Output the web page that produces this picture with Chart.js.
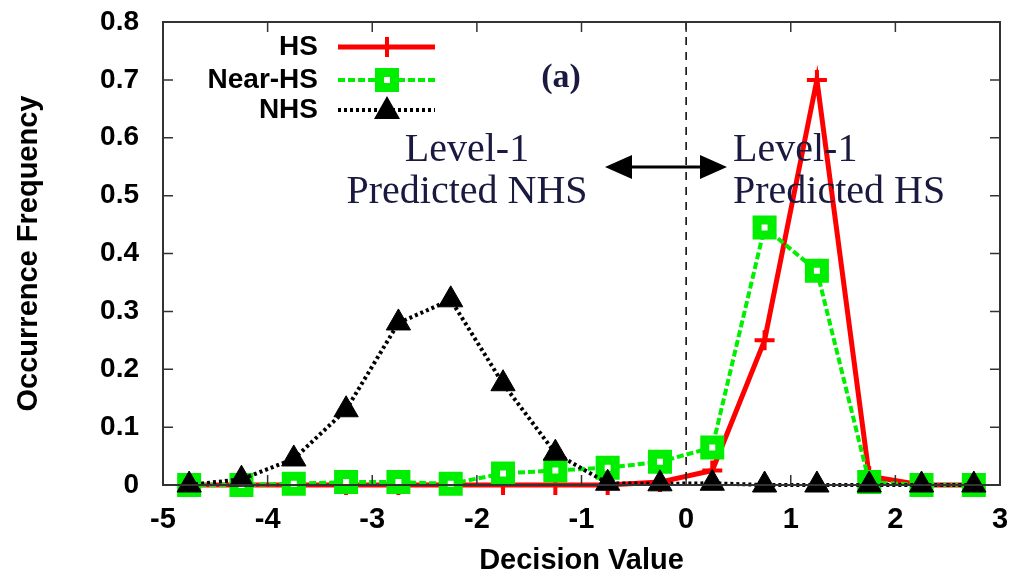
<!DOCTYPE html>
<html>
<head>
<meta charset="utf-8">
<script src="https://cdn.jsdelivr.net/npm/chart.js@4/dist/chart.umd.min.js"></script>
<style>
  html, body { margin: 0; padding: 0; background: #fff; }
  #wrap { width: 1015px; height: 580px; }
</style>
</head>
<body>
<div id="wrap"><canvas id="myChart" width="1015" height="580"></canvas></div>
<script>
// bin centres (decision value)
const binCenters = [-4.75, -4.25, -3.75, -3.25, -2.75, -2.25, -1.75, -1.25, -0.75, -0.25, 0.25, 0.75, 1.25, 1.75, 2.25, 2.75];
// occurrence frequency per series
const hsValues = [0, 0, 0, 0, 0, 0, 0, 0, 0, 0.005, 0.025, 0.25, 0.70, 0.015, 0, 0];
const nearHsValues = [0, 0, 0.002, 0.005, 0.005, 0.002, 0.02, 0.025, 0.03, 0.04, 0.065, 0.445, 0.37, 0.005, 0, 0];
const nhsValues = [0, 0.01, 0.045, 0.13, 0.28, 0.32, 0.175, 0.055, 0.003, 0.002, 0.003, 0, 0, 0, 0, 0];
// axis ticks
const xTicks = [-5, -4, -3, -2, -1, 0, 1, 2, 3];
const yTicks = [0, 0.1, 0.2, 0.3, 0.4, 0.5, 0.6, 0.7, 0.8];

const toPoints = vals => vals.map((v, i) => ({ x: binCenters[i], y: v }));
const SANS = "'Liberation Sans', Arial, sans-serif";
const SERIF = "'Liberation Serif', 'Times New Roman', serif";
const NAVY = "#1a1a40";

// frame, inward ticks, dashed zero line, legend and annotations
const decorations = {
  id: "decorations",
  afterDatasetsDraw(chart) {
    const ctx = chart.ctx;
    const a = chart.chartArea;
    const xs = chart.scales.x, ys = chart.scales.y;
    ctx.save();

    // dashed line at decision value 0
    const x0 = xs.getPixelForValue(0);
    ctx.strokeStyle = "#000";
    ctx.lineWidth = 1.5;
    ctx.setLineDash([8, 7]);
    ctx.beginPath();
    ctx.moveTo(x0, a.top);
    ctx.lineTo(x0, a.bottom);
    ctx.stroke();
    ctx.setLineDash([]);

    // frame
    ctx.strokeStyle = "#333";
    ctx.lineWidth = 2;
    ctx.strokeRect(a.left, a.top, a.right - a.left, a.bottom - a.top);

    // inward ticks on all four sides
    ctx.lineWidth = 1.5;
    ctx.beginPath();
    xTicks.forEach(t => {
      const px = xs.getPixelForValue(t);
      ctx.moveTo(px, a.bottom); ctx.lineTo(px, a.bottom - 10);
      ctx.moveTo(px, a.top); ctx.lineTo(px, a.top + 10);
    });
    yTicks.forEach(t => {
      const py = ys.getPixelForValue(t);
      ctx.moveTo(a.left, py); ctx.lineTo(a.left + 10, py);
      ctx.moveTo(a.right, py); ctx.lineTo(a.right - 10, py);
    });
    ctx.stroke();

    // legend (text right aligned, sample to the right)
    const legend = [
      { label: "HS", y: 47, color: "#ff0000", dash: [], width: 5, marker: "cross" },
      { label: "Near-HS", y: 80, color: "#00ee00", dash: [7, 3], width: 4, marker: "rect" },
      { label: "NHS", y: 110, color: "#000", dash: [3, 3], width: 4, marker: "triangle" }
    ];
    ctx.font = "bold 28px " + SANS;
    ctx.textAlign = "right";
    ctx.textBaseline = "middle";
    legend.forEach(l => {
      ctx.fillStyle = "#000";
      ctx.fillText(l.label, 318, l.y);
      ctx.strokeStyle = l.color;
      ctx.lineWidth = l.width;
      ctx.setLineDash(l.dash);
      ctx.beginPath();
      ctx.moveTo(338, l.y); ctx.lineTo(435, l.y);
      ctx.stroke();
      ctx.setLineDash([]);
      const mx = 387;
      if (l.marker === "cross") {
        ctx.lineWidth = 4;
        ctx.beginPath();
        ctx.moveTo(mx - 10, l.y); ctx.lineTo(mx + 10, l.y);
        ctx.moveTo(mx, l.y - 10); ctx.lineTo(mx, l.y + 10);
        ctx.stroke();
      } else if (l.marker === "rect") {
        ctx.fillStyle = "#fff";
        ctx.lineWidth = 9;
        ctx.fillRect(mx - 7.5, l.y - 7.5, 15, 15);
        ctx.strokeRect(mx - 7.5, l.y - 7.5, 15, 15);
      } else {
        ctx.fillStyle = "#000";
        ctx.beginPath();
        ctx.moveTo(mx, l.y - 14);
        ctx.lineTo(mx + 13, l.y + 9);
        ctx.lineTo(mx - 13, l.y + 9);
        ctx.closePath();
        ctx.fill();
      }
    });

    // "(a)" label
    ctx.fillStyle = NAVY;
    ctx.textAlign = "center";
    ctx.font = "bold 34px " + SERIF;
    ctx.fillText("(a)", 561, 78);

    // region labels
    ctx.font = "40px " + SERIF;
    ctx.fillText("Level-1", 467, 150);
    ctx.fillText("Predicted NHS", 467, 192);
    ctx.textAlign = "left";
    ctx.fillText("Level-1", 733, 150);
    ctx.fillText("Predicted HS", 733, 192);

    // double arrow
    const ay = 167, left = 605, right = 727;
    ctx.strokeStyle = "#000";
    ctx.fillStyle = "#000";
    ctx.lineWidth = 3;
    ctx.beginPath();
    ctx.moveTo(left + 20, ay); ctx.lineTo(right - 20, ay);
    ctx.stroke();
    ctx.beginPath();
    ctx.moveTo(left, ay); ctx.lineTo(left + 27, ay - 12); ctx.lineTo(left + 27, ay + 12); ctx.closePath();
    ctx.moveTo(right, ay); ctx.lineTo(right - 27, ay - 12); ctx.lineTo(right - 27, ay + 12); ctx.closePath();
    ctx.fill();

    ctx.restore();
  }
};

new Chart(document.getElementById("myChart").getContext("2d"), {
  type: "line",
  data: {
    datasets: [
      {
        label: "HS",
        data: toPoints(hsValues),
        borderColor: "#ff0000",
        backgroundColor: "#ff0000",
        borderWidth: 5,
        pointStyle: "cross",
        pointRadius: 10,
        pointBorderWidth: 4,
        tension: 0,
        clip: false,
        order: 3
      },
      {
        label: "Near-HS",
        data: toPoints(nearHsValues),
        borderColor: "#00ee00",
        backgroundColor: "#ffffff",
        borderWidth: 4,
        borderDash: [7, 3],
        pointStyle: "rect",
        pointRadius: 10.6,
        pointBorderWidth: 9,
        pointBackgroundColor: "#ffffff",
        pointBorderColor: "#00ee00",
        tension: 0,
        clip: false,
        order: 2
      },
      {
        label: "NHS",
        data: toPoints(nhsValues),
        borderColor: "#000",
        backgroundColor: "#000",
        borderWidth: 4,
        borderDash: [3, 3],
        pointStyle: "triangle",
        pointRadius: 14,
        pointBorderWidth: 1,
        tension: 0,
        clip: false,
        order: 1
      }
    ]
  },
  options: {
    responsive: false,
    animation: false,
    layout: { autoPadding: false, padding: { top: 22, right: 15, left: 0, bottom: 0 } },
    plugins: {
      legend: { display: false },
      tooltip: { enabled: false }
    },
    scales: {
      x: {
        type: "linear",
        min: -5,
        max: 3,
        afterFit: s => { s.height = 95; s.paddingLeft = 0; s.paddingRight = 0; },
        afterBuildTicks: s => { s.ticks = xTicks.map(v => ({ value: v })); },
        grid: { display: false },
        border: { display: false },
        ticks: {
          padding: 10,
          color: "#000",
          font: { family: SANS, size: 29, weight: "bold" },
          maxRotation: 0
        },
        title: {
          display: true,
          text: "Decision Value",
          color: "#000",
          padding: { top: 0, bottom: 2 },
          font: { family: SANS, size: 29, weight: "bold" }
        }
      },
      y: {
        min: 0,
        max: 0.8,
        afterFit: s => { s.width = 163; s.paddingTop = 0; s.paddingBottom = 0; },
        afterBuildTicks: s => { s.ticks = yTicks.map(v => ({ value: v })); },
        grid: { display: false },
        border: { display: false },
        ticks: {
          padding: 16,
          color: "#000",
          font: { family: SANS, size: 28, weight: "bold" },
          callback: v => (v === 0 ? "0" : v.toFixed(1))
        },
        title: {
          display: true,
          text: "Occurrence Frequency",
          color: "#000",
          padding: { top: 12, bottom: 0 },
          font: { family: SANS, size: 29, weight: "bold" }
        }
      }
    }
  },
  plugins: [decorations]
});
</script>
</body>
</html>
